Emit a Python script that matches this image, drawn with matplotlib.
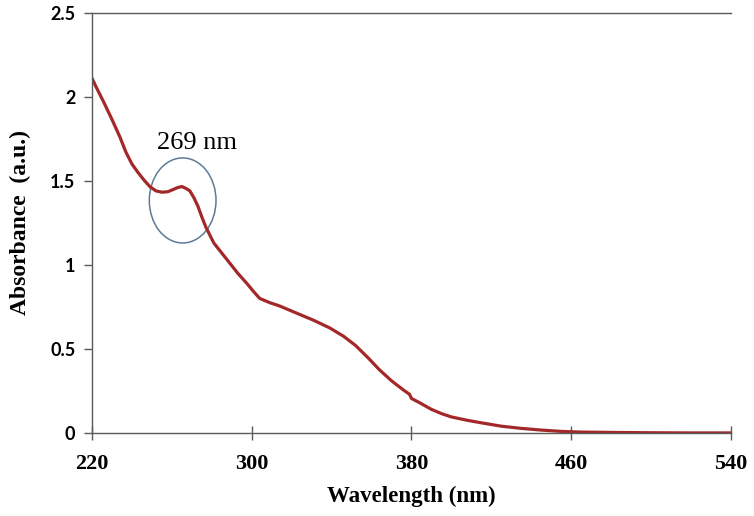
import matplotlib
matplotlib.use("Agg")
import matplotlib.pyplot as plt
from matplotlib.patches import Ellipse

wavelength = [220, 222, 226, 230, 234, 237, 240, 243, 246, 249, 252, 255, 258, 261, 263, 265,
              267, 269, 271, 273, 275, 277, 281, 285, 289, 293, 297.5, 301, 304, 309,
              314, 320, 326, 331, 339, 346, 352, 358, 364, 370, 376, 379, 380, 384,
              390, 395, 400, 408, 415, 425, 435, 445, 455, 465, 480, 500, 520, 540]
absorbance = [2.11, 2.06, 1.965, 1.865, 1.76, 1.67, 1.60, 1.55, 1.505, 1.465, 1.44, 1.432, 1.435, 1.45, 1.46, 1.466,
              1.455, 1.44, 1.40, 1.35, 1.285, 1.225, 1.13, 1.07, 1.01, 0.95, 0.89, 0.84, 0.80, 0.775,
              0.755, 0.725, 0.695, 0.67, 0.625, 0.575, 0.52, 0.45, 0.375, 0.31, 0.255, 0.23, 0.205, 0.18,
              0.14, 0.115, 0.095, 0.075, 0.06, 0.04, 0.027, 0.017, 0.009, 0.005, 0.003, 0.001, 0.0, 0.0]
xticks = [220, 300, 380, 460, 540]
yticks = [0, 0.5, 1, 1.5, 2, 2.5]
ytick_labels = ["0", "0.5", "1", "1.5", "2", "2.5"]
peak_label = "269 nm"

fig = plt.figure(figsize=(7.54, 5.16), dpi=100)
ax = fig.add_axes([0.122, 0.161, 0.8475, 0.8144])

ax.plot(wavelength, absorbance, color="#A3282A", lw=2.3, solid_capstyle="round", solid_joinstyle="round")
ax.set_xlim(220, 540)
ax.set_ylim(0, 2.5)

ax.add_patch(Ellipse((265.4, 1.383), 33.4, 0.506, fill=False, edgecolor="#5E7A98", lw=1.1))
ax.text(272.4, 1.724, peak_label, ha="center", va="center", fontsize=19,
        family="Liberation Serif", color="black")

for s in ["left", "bottom", "top"]:
    ax.spines[s].set_color("#5a5a5a")
    ax.spines[s].set_linewidth(1.0)
ax.spines["right"].set_visible(False)

ax.set_xticks(xticks)
ax.set_xticklabels([str(v) for v in xticks], family="Liberation Serif", weight="bold", fontsize=16)
ax.set_yticks(yticks)
ax.set_yticklabels(ytick_labels, family="Lato", weight="bold", fontsize=13)
ax.tick_params(axis="x", direction="inout", length=10, width=1, color="#5a5a5a", pad=10)
ax.tick_params(axis="y", direction="out", length=6, width=1, color="#5a5a5a", pad=6)

ax.set_xlabel("Wavelength (nm)", family="Liberation Serif", weight="bold", fontsize=16.5, labelpad=9)
ax.set_ylabel("Absorbance  (a.u.)", family="Liberation Serif", weight="bold", fontsize=17, labelpad=14)

fig.savefig("out.png", dpi=100)
